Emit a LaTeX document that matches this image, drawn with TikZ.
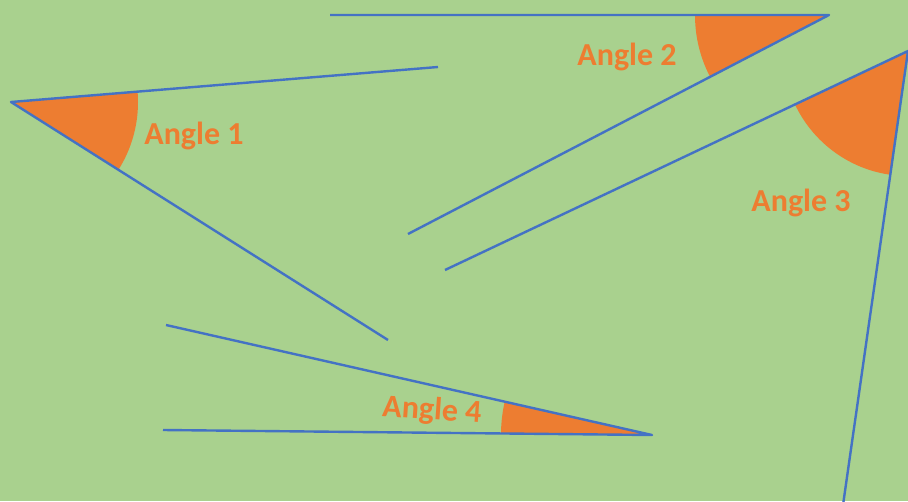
\documentclass[tikz,border=0pt]{standalone}
\usepackage{fontspec}
\setmainfont{Carlito}
\definecolor{bg}{HTML}{A9D18E}
\definecolor{ang}{HTML}{ED7D31}
\definecolor{ray}{HTML}{4472C4}
\tikzset{
  rayline/.style={draw=ray, line width=2.4pt, line join=round},
  sector/.style={fill=ang},
  anglabel/.style={text=ang, font=\bfseries\fontsize{32}{32}\selectfont, inner sep=0pt}
}
\begin{document}
\begin{tikzpicture}[x=1pt,y=-1pt]
\fill[bg] (0,0) rectangle (908,501);
\useasboundingbox (0,0) rectangle (908,501);
% coordinates
\coordinate (v1) at (11,102);
\coordinate (a1) at (438,67);
\coordinate (b1) at (388,340);
\coordinate (v2) at (829,15);
\coordinate (a2) at (330,15);
\coordinate (b2) at (408,234);
\coordinate (v3) at (908,51);
\coordinate (a3) at (445,270);
\coordinate (b3) at (843,505);
\coordinate (v4) at (652,435);
\coordinate (a4) at (166,325);
\coordinate (b4) at (163,430);
% sectors
\begin{scope}\clip (v1) -- (a1) -- (b1) -- cycle; \fill[sector] (v1) circle (127); \end{scope}
\begin{scope}\clip (v2) -- (a2) -- (b2) -- cycle; \fill[sector] (v2) circle (134); \end{scope}
\begin{scope}\clip (v3) -- (a3) -- (b3) -- cycle; \fill[sector] (v3) circle (125); \end{scope}
\begin{scope}\clip (v4) -- (a4) -- (b4) -- cycle; \fill[sector] (v4) circle (151); \end{scope}
% rays
\draw[rayline] (a1) -- (v1) -- (b1);
\draw[rayline] (a2) -- (v2) -- (b2);
\draw[rayline] (a3) -- (v3) -- (b3);
\draw[rayline] (a4) -- (v4) -- (b4);
% labels
\node[anglabel] (l1) at (194,136) {Angle 1};
\node[anglabel] (l2) at (627,57) {Angle 2};
\node[anglabel] (l3) at (801,203) {Angle 3};
\node[anglabel, rotate=-4] (l4) at (432,411) {Angle 4};
\end{tikzpicture}
\end{document}
